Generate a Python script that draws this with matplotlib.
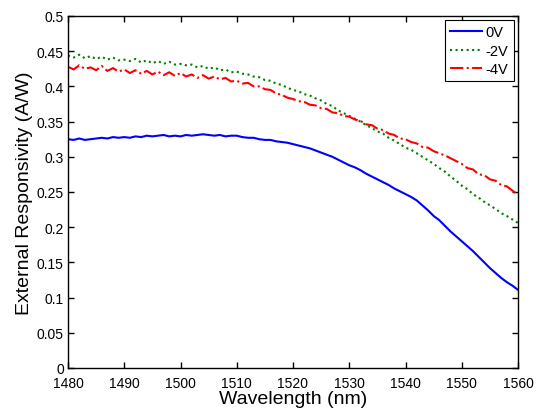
import matplotlib
matplotlib.use("Agg")
import matplotlib.pyplot as plt
import numpy as np

plt.rcParams['font.family'] = ['Liberation Sans', 'DejaVu Sans']

wavelength = list(range(1480, 1561))

resp_0v = [
    .325, .324, .326, .324, .325, .326, .327, .326, .328, .327,
    .328, .327, .329, .328, .330, .329, .330, .331, .329, .330,
    .329, .331, .330, .331, .332, .331, .330, .331, .329, .330,
    .330, .328, .327, .327, .325, .324, .324, .322, .321, .320,
    .318, .316, .314, .312, .309, .306, .303, .300, .296, .292,
    .288, .285, .281, .276, .272, .268, .264, .260, .255, .251,
    .247, .243, .238, .231, .224, .216, .210, .202, .194, .187,
    .180, .173, .166, .158, .150, .142, .135, .128, .122, .117,
    .111,
]

resp_m2v = [
    .444, .441, .445, .440, .443, .439, .442, .438, .441, .437,
    .438, .436, .439, .434, .437, .433, .436, .432, .435, .431,
    .432, .430, .431, .427, .429, .425, .427, .423, .424, .420,
    .421, .418, .417, .414, .413, .409, .408, .404, .402, .398,
    .395, .393, .389, .387, .383, .380, .375, .372, .366, .362,
    .358, .354, .350, .345, .341, .336, .333, .327, .323, .318,
    .313, .310, .305, .300, .295, .290, .284, .279, .272, .266,
    .259, .254, .247, .242, .236, .231, .226, .220, .216, .211,
    .206,
]

resp_m4v = [
    .428, .424, .430, .425, .427, .423, .429, .422, .426, .421,
    .424, .419, .423, .418, .422, .417, .421, .416, .420, .415,
    .419, .414, .417, .412, .416, .411, .414, .410, .412, .407,
    .408, .404, .405, .400, .400, .396, .395, .390, .388, .384,
    .382, .379, .378, .374, .373, .369, .368, .363, .362, .358,
    .357, .353, .351, .346, .345, .340, .338, .333, .331, .326,
    .325, .321, .319, .314, .313, .308, .305, .302, .298, .294,
    .290, .284, .282, .275, .274, .268, .266, .260, .258, .252,
    .246,
]

series_labels = ['0V', '-2V', '-4V']
x_ticks = [1480, 1490, 1500, 1510, 1520, 1530, 1540, 1550, 1560]
y_ticks = [0, 0.05, 0.1, 0.15, 0.2, 0.25, 0.3, 0.35, 0.4, 0.45, 0.5]
y_tick_labels = ['0', '0.05', '0.1', '0.15', '0.2', '0.25', '0.3', '0.35', '0.4', '0.45', '0.5']

fig = plt.figure(figsize=(5.37, 4.14), dpi=100)
ax = fig.add_axes([68/537, 45/414, 450/537, 352/414])

ax.plot(wavelength, resp_0v, color=(0, 0, 1), lw=1.5, ls='-', label=series_labels[0])
ax.plot(wavelength, resp_m2v, color=(0, 0.5, 0), lw=1.5, ls=':', label=series_labels[1])
ax.plot(wavelength, resp_m4v, color=(1, 0, 0), lw=1.5, ls='-.', label=series_labels[2])

ax.set_xlim(1480, 1560)
ax.set_ylim(0, 0.5)
ax.set_xticks(x_ticks)
ax.set_yticks(y_ticks)
ax.set_yticklabels(y_tick_labels)
ax.tick_params(direction='in', top=True, right=True, labelsize=10, length=4, width=1.0)
ax.tick_params(axis='x', pad=6)
ax.tick_params(axis='y', pad=3)
for s in ax.spines.values():
    s.set_linewidth(1.0)
ax.set_xlabel('Wavelength (nm)', fontsize=14, labelpad=0)
ax.set_ylabel('External Responsivity (A/W)', fontsize=14, labelpad=3)

leg = ax.legend(loc='upper right', fontsize=10.5, fancybox=False, framealpha=1,
                edgecolor='black', borderaxespad=0.3, handlelength=2.2,
                handletextpad=0.25, labelspacing=0.3, borderpad=0.35)
leg.get_frame().set_linewidth(0.8)

fig.savefig('out.png', dpi=100)
